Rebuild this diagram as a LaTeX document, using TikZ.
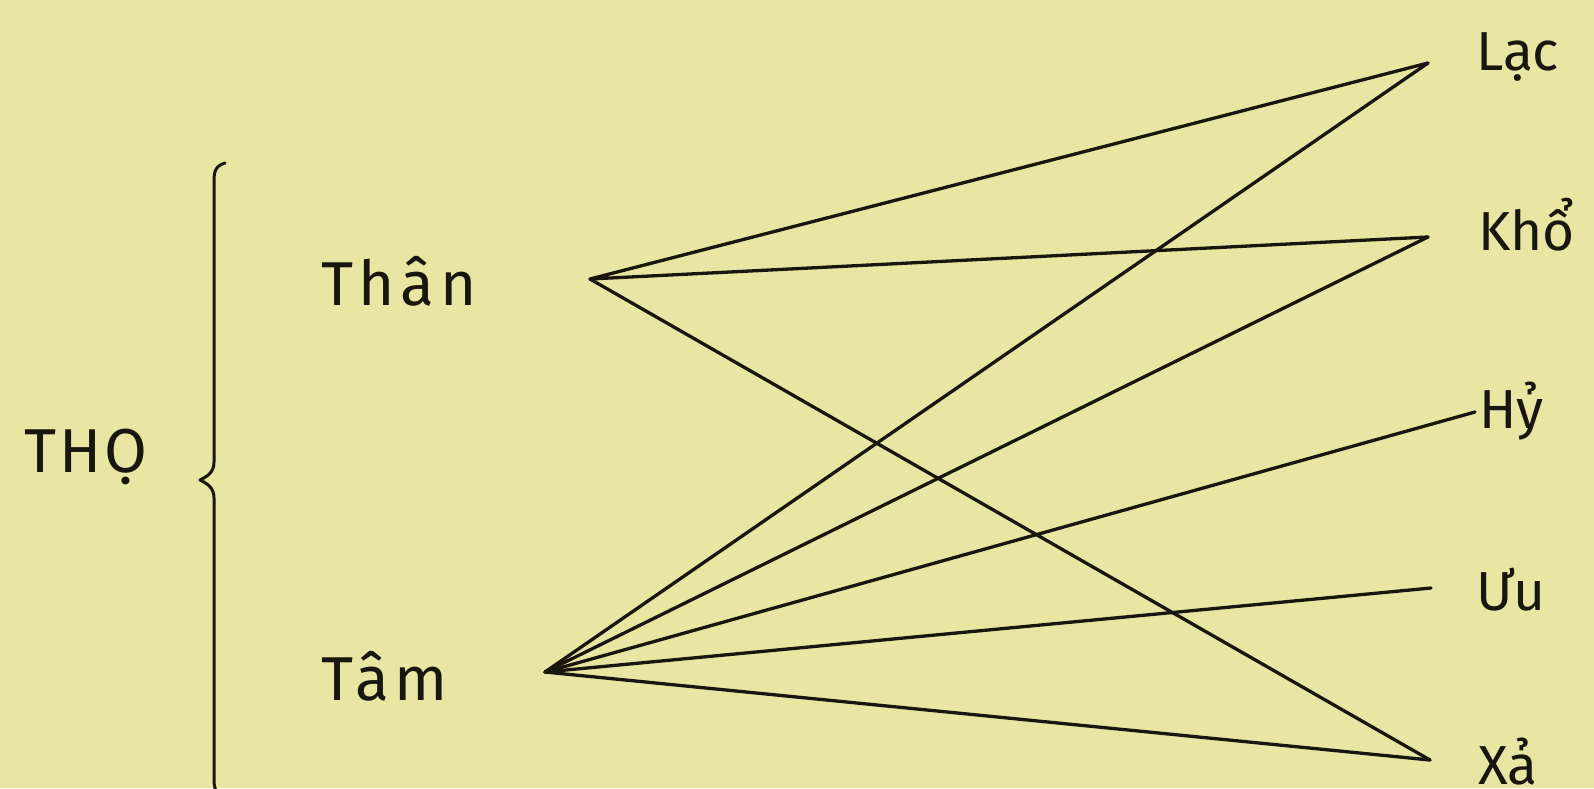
\documentclass[tikz,border=0pt]{standalone}
\usepackage{fontspec}
\setmainfont{Fira Sans}
\definecolor{paper}{RGB}{233,229,162}
\definecolor{ink}{RGB}{25,22,15}
\begin{document}
\begin{tikzpicture}[x=1pt,y=-1pt,
  lbl/.style={inner sep=0pt,text=ink,font=\fontsize{55}{66}\selectfont},
  biglbl/.style={inner sep=0pt,text=ink,font=\fontsize{62}{74}\selectfont\addfontfeature{LetterSpace=9}},
  conn/.style={draw=ink,line width=3.3pt,line cap=round,line join=round}]
\fill[paper] (0,0) rectangle (1594,788);
\useasboundingbox (0,0) rectangle (1594,788);
% labels
\node[inner sep=0pt,text=ink,font=\fontsize{62}{74}\selectfont\addfontfeature{LetterSpace=5},anchor=base west] (tho) at (24,472) {THỌ};
\node[biglbl,anchor=base west] (than) at (321,305) {Thân};
\node[biglbl,anchor=base west] (tam) at (321,700) {Tâm};
\node[lbl,anchor=base west] (lac) at (1476,70) {Lạc};
\node[lbl,anchor=base west] (kho) at (1478,250) {Khổ};
\node[lbl,anchor=base west] (hy) at (1479,428) {Hỷ};
\node[lbl,anchor=base west] (uu) at (1476,610) {Ưu};
\node[lbl,anchor=base west,text depth=0pt] (xa) at (1478,784) {Xả};
% connector ends
\coordinate (thanP) at (590,279);
\coordinate (tamP) at (545,672);
\coordinate (lacP) at (1428,63);
\coordinate (khoP) at (1428,237);
\coordinate (hyP) at (1475,412);
\coordinate (uuP) at (1431,588);
\coordinate (xaP) at (1430,760);
% connectors
\draw[conn] (lacP) -- (thanP) -- (khoP);
\draw[conn] (thanP) -- (xaP);
\draw[conn] (tamP) -- (lacP);
\draw[conn] (tamP) -- (khoP);
\draw[conn] (tamP) -- (hyP);
\draw[conn] (tamP) -- (uuP);
\draw[conn] (tamP) -- (xaP);
% brace
\coordinate (bt) at (225,163);
\coordinate (bm) at (200,480);
\coordinate (bb) at (225,797);
\draw[conn,line width=3pt] (bt) .. controls (215,166) and (214,172) .. (214,182)
  -- (214,462) .. controls (214,472) and (208,476) .. (bm)
  .. controls (208,484) and (214,488) .. (214,498)
  -- (214,778) .. controls (214,788) and (215,794) .. (bb);
\end{tikzpicture}
\end{document}
